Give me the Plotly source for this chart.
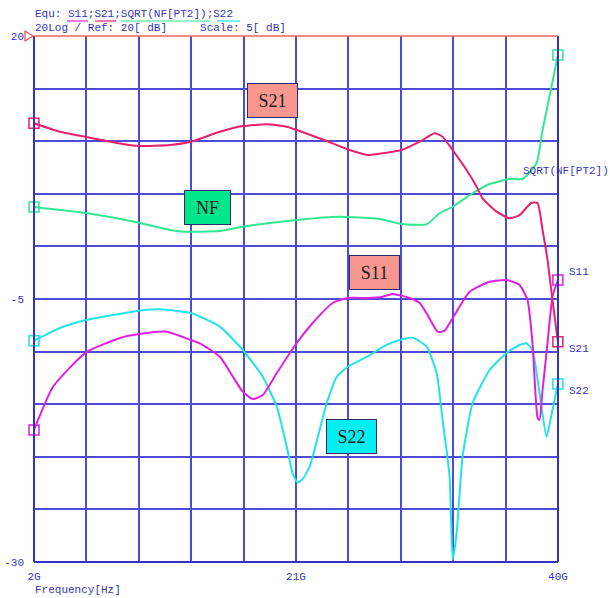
import plotly.graph_objects as go

# ---------------- data (GHz, dB) ----------------
s21_f = [2.00, 3.88, 5.77, 8.01, 9.61, 11.85, 13.37, 15.48, 17.14, 18.88, 20.33, 21.05, 23.23, 24.89,
         26.20, 28.01, 28.66, 29.97, 31.05, 31.63, 32.36, 33.37, 34.10, 34.53, 35.55, 36.49, 37.21,
         38.08, 38.52, 38.88, 39.24, 39.60, 39.99]
s21_db = [11.70, 10.90, 10.40, 9.83, 9.54, 9.64, 9.95, 10.90, 11.44, 11.61, 11.38, 11.06, 10.02, 9.16,
          8.69, 9.00, 9.16, 9.95, 10.75, 10.43, 9.16, 7.26, 5.67, 4.57, 3.30, 2.67, 2.98,
          4.15, 4.10, 1.56, -1.29, -5.10, -9.06]

nf_f = [2.00, 5.77, 9.61, 11.85, 12.80, 15.48, 17.14, 21.05, 24.17, 27.07, 28.66, 30.47, 31.41, 32.36,
        33.81, 35.04, 36.49, 37.43, 38.44, 38.88, 39.53, 39.99]
nf_db = [3.75, 3.17, 2.25, 1.56, 1.40, 1.46, 1.87, 2.51, 2.82, 2.60, 2.13, 2.10, 3.15, 3.77,
         5.05, 5.93, 6.41, 6.41, 7.90, 11.06, 15.18, 18.19]

s22_f = [2.00, 3.88, 5.77, 9.61, 11.13, 13.37, 15.48, 17.14, 18.59, 19.61, 20.33, 20.76, 21.12, 21.49,
         21.99, 23.23, 23.95, 24.75, 26.13, 27.57, 28.52, 29.46, 30.47, 31.20, 31.63, 32.14, 32.36,
         32.65, 33.08, 33.81, 35.04, 36.27, 37.21, 37.72, 38.15, 38.66, 39.17, 39.60, 39.99]
s22_db = [-8.96, -7.76, -7.00, -6.11, -5.98, -6.33, -7.63, -9.85, -12.39, -15.24, -19.04, -21.60, -22.45, -22.10,
          -20.94, -14.89, -12.41, -11.44, -10.49, -9.37, -8.90, -8.68, -9.53, -12.06, -16.50, -21.89, -29.81,
          -27.24, -19.99, -14.89, -11.75, -10.13, -9.37, -9.21, -9.85, -13.94, -18.09, -15.55, -13.08]

s11_f = [2.00, 3.38, 5.77, 8.23, 9.61, 11.64, 13.37, 14.03, 15.48, 16.42, 17.14, 17.87, 18.59, 19.61,
         21.05, 22.21, 23.66, 24.75, 26.13, 27.28, 28.01, 29.24, 29.97, 30.47, 31.27, 31.78, 32.36,
         33.59, 35.04, 36.27, 37.21, 37.79, 38.15, 38.52, 38.66, 38.88, 39.24, 39.60, 39.99]
s11_db = [-17.45, -13.34, -10.07, -8.71, -8.33, -8.11, -8.90, -9.21, -10.49, -12.39, -13.81, -14.51, -14.13, -12.03,
          -9.18, -7.28, -5.38, -4.90, -4.90, -4.78, -4.52, -4.90, -5.38, -6.36, -8.11, -8.01, -6.81,
          -4.31, -3.36, -3.19, -3.67, -5.10, -9.18, -16.31, -16.50, -13.65, -9.18, -4.78, -3.19]

x_tickvals = [2.0, 5.8, 9.6, 13.4, 17.2, 21.0, 24.8, 28.6, 32.4, 36.2, 40.0]
x_ticktext = ["2G", "", "", "", "", "21G", "", "", "", "", "40G"]
y_tickvals = [-30, -25, -20, -15, -10, -5, 0, 5, 10, 15, 20]
y_ticktext = ["-30", "", "", "", "", "-5", "", "", "", "", "20"]

header1 = "Equ: S11;S21;SQRT(NF[PT2]);S22"
header2 = "20Log / Ref: 20[ dB]     Scale: 5[ dB]"

C_S21 = "#E8206E"
C_S11 = "#E020E0"
C_NF = "#30E890"
C_S22 = "#20E4E8"
C_GRID = "#4C4CD8"
C_TXT = "#3535B8"

# ---------------- layout geometry (pixels) ----------------
W, H = 610, 598
L, R, T, B = 34, 52, 36, 36
PW, PH = W - L - R, H - T - B


def px(x):
    return (x - L) / PW


def py(y):
    return (H - B - y) / PH


fig = go.Figure()


def add_trace(f, db, color):
    fig.add_trace(go.Scatter(
        x=f, y=db, mode="lines", line=dict(color=color, width=2, shape="spline", smoothing=0.5),
        hoverinfo="skip", showlegend=False, cliponaxis=False))
    fig.add_trace(go.Scatter(
        x=[f[0], f[-1]], y=[db[0], db[-1]], mode="markers",
        marker=dict(symbol="square-open", size=10, color=color, line=dict(width=1.5, color=color)),
        hoverinfo="skip", showlegend=False, cliponaxis=False))


add_trace(s22_f, s22_db, C_S22)
add_trace(nf_f, nf_db, C_NF)
add_trace(s11_f, s11_db, C_S11)
add_trace(s21_f, s21_db, C_S21)

mono = "Liberation Mono"
serif = "Liberation Serif"

annotations = []
# header lines
annotations.append(dict(xref="paper", yref="paper", x=px(33), y=py(14), text=header1, showarrow=False,
                        xanchor="left", yanchor="middle", font=dict(family=mono, size=11, color=C_TXT)))
annotations.append(dict(xref="paper", yref="paper", x=px(33), y=py(28), text=header2, showarrow=False,
                        xanchor="left", yanchor="middle", font=dict(family=mono, size=11, color=C_TXT)))
# axis title
annotations.append(dict(xref="paper", yref="paper", x=px(33), y=py(590), text="Frequency[Hz]", showarrow=False,
                        xanchor="left", yanchor="middle", font=dict(family=mono, size=11, color=C_TXT)))
# right trace labels
for txt, yy in [("SQRT(NF[PT2])", 171), ("S11", 272), ("S21", 349), ("S22", 391)]:
    xx = 521 if txt.startswith("SQRT") else 567
    annotations.append(dict(xref="paper", yref="paper", x=px(xx), y=py(yy), text=txt, showarrow=False,
                            xanchor="left", yanchor="middle", font=dict(family=mono, size=11, color=C_TXT)))
# boxed labels
for txt, x0, y0, x1, y1, bg in [("S21", 247, 83, 298, 118, "#F7978F"),
                                 ("NF", 184, 190, 231, 225, "#00E68C"),
                                 ("S11", 349, 255, 400, 290, "#F7978F"),
                                 ("S22", 326, 419, 377, 454, "#00F0F0")]:
    annotations.append(dict(xref="paper", yref="paper", x=px((x0 + x1) / 2), y=py((y0 + y1) / 2), text=txt,
                            showarrow=False, xanchor="center", yanchor="middle",
                            width=x1 - x0 - 2, height=y1 - y0 - 2, bgcolor=bg, bordercolor="#2A2A70",
                            borderwidth=1, borderpad=0, font=dict(family=serif, size=18, color="#202020")))

shapes = []
# frame
shapes.append(dict(type="line", xref="paper", yref="paper", x0=0, x1=0, y0=0, y1=1, line=dict(color="#3434C4", width=2)))
shapes.append(dict(type="line", xref="paper", yref="paper", x0=1, x1=1, y0=0, y1=1, line=dict(color="#3434C4", width=2)))
shapes.append(dict(type="line", xref="paper", yref="paper", x0=0, x1=1, y0=0, y1=0, line=dict(color="#3434C4", width=2)))
shapes.append(dict(type="line", xref="paper", yref="paper", x0=0, x1=1, y0=1, y1=1, line=dict(color="#F06060", width=1.5)))
# reference triangle
shapes.append(dict(type="path", xref="paper", yref="paper",
                   path=f"M {px(25)} {py(31)} L {px(25)} {py(41)} L {px(33)} {py(36)} Z",
                   line=dict(color="#F04848", width=1.2), fillcolor="rgba(0,0,0,0)"))
# header underlines
for x0, x1, c in [(67, 88, C_S11), (95, 116, C_S21), (121, 211, C_NF), (217, 240, C_S22)]:
    shapes.append(dict(type="line", xref="paper", yref="paper", x0=px(x0), x1=px(x1), y0=py(21), y1=py(21),
                       line=dict(color=c, width=1.2)))

fig.update_layout(
    width=W, height=H, margin=dict(l=L, r=R, t=T, b=B, autoexpand=False),
    paper_bgcolor="white", plot_bgcolor="white",
    showlegend=False, annotations=annotations, shapes=shapes,
    xaxis=dict(range=[2, 40], tickvals=x_tickvals, ticktext=x_ticktext, showgrid=True, gridcolor=C_GRID,
               gridwidth=1.5, zeroline=False, showline=False, ticks="", ticklabelstandoff=6, automargin=False,
               tickfont=dict(family=mono, size=11, color=C_TXT), fixedrange=True),
    yaxis=dict(range=[-30, 20], tickvals=y_tickvals, ticktext=y_ticktext, showgrid=True, gridcolor=C_GRID,
               gridwidth=1.5, zeroline=False, showline=False, ticks="", ticklabelstandoff=9, automargin=False,
               tickfont=dict(family=mono, size=11, color=C_TXT), fixedrange=True),
)

fig.write_html("out.html")
